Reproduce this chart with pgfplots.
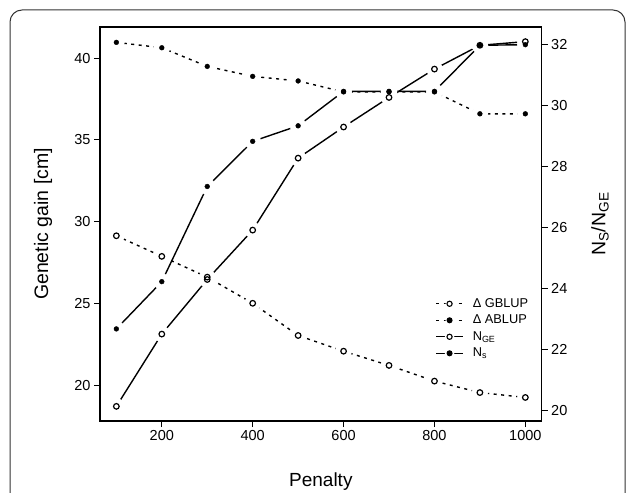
\documentclass[border=0pt]{standalone}
\usepackage{fontspec}
\setmainfont{Liberation Sans}
\usepackage{pgfplots}
\usepackage{pgfplotstable}
\pgfplotsset{compat=1.18}

\pgfplotstableread{
x    gb    ab    nge   ns
100  29.13 40.96 20.14 22.68
200  27.87 40.63 22.51 24.23
300  26.60 39.49 24.30 27.35
400  25.00 38.88 25.92 28.83
500  23.03 38.60 28.28 29.34
600  22.07 37.93 29.30 30.47
700  21.20 37.93 30.27 30.47
800  20.24 37.93 31.20 30.47
900  19.54 36.59 31.98 31.98
1000 19.24 36.59 32.10 32.00
}\data

\newcommand\legfont{\fontsize{12.8}{15}\selectfont\hspace*{6pt}}
\pgfplotsset{
  base/.style={at={(100pt,72pt)}, anchor=south west, scale only axis,
    width=441.7pt, height=394pt, xmin=64, xmax=1036},
  lefty/.style={ymin=17.8, ymax=41.9},
  righty/.style={ymin=19.66, ymax=32.58},
  hid/.style={base, hide axis},
  dotl/.style={black, line width=1.4pt, dash pattern=on 3pt off 4.5pt},
  soll/.style={black, line width=1.4pt},
  halo/.style={only marks, mark=*, mark size=8pt, white, mark options={draw=none, fill=white}},
  omark/.style={only marks, mark=o, mark size=2.8pt, black, mark options={line width=1.2pt, fill=white, solid}},
  fmark/.style={only marks, mark=*, mark size=2.4pt, black, mark options={solid}},
  tl/.style={font=\fontsize{14.5}{16}\selectfont, /pgf/number format/assume math mode=true,
    /pgf/number format/1000 sep={}},
}

\begin{document}
\begin{tikzpicture}
\clip (0pt,0pt) rectangle (627pt,493pt);
\useasboundingbox (0pt,0pt) rectangle (627pt,493pt);
\draw[line width=1pt, black!80, rounded corners=12pt] (10pt,-40pt) rectangle (625pt,483pt);

% left axis, lines of the gain series
\begin{axis}[base, lefty,
    axis line style={line width=1.3pt},
    tick align=outside, xtick pos=bottom, ytick pos=left,
    major tick length=6pt, tick style={black, line width=0.9pt},
    xtick={200,400,600,800,1000}, ytick={20,25,30,35,40},
    tick label style={tl},
    xlabel={Penalty}, ylabel={Genetic gain [cm]},
    every axis x label/.style={at={(axis description cs:0.5,-0.154)}, anchor=center, font=\fontsize{19}{22}\selectfont},
    every axis y label/.style={at={(axis description cs:-0.129,0.5)}, anchor=center, rotate=90, font=\fontsize{19.5}{22}\selectfont},
    legend style={at={(0.752,0.324)}, anchor=north west, draw=none, fill=none,
      row sep=0pt,
      nodes={inner xsep=3pt, inner ysep=1.5pt, text height=10pt, text depth=3.5pt}},
    legend cell align=left,
    legend image code/.code={
      \draw[#1] (0pt,0pt) -- (27pt,0pt);
      \fill[white] (13.5pt,0pt) circle (4pt);
      \draw[#1] plot coordinates {(13.5pt,0pt)};
    },
  ]
  \addlegendimage{dotl, mark=o, mark size=2.6pt, mark options={solid, line width=1.1pt, fill=white}}
  \addlegendentry{\legfont Δ GBLUP}
  \addlegendimage{dotl, mark=*, mark size=2.3pt, mark options={solid}}
  \addlegendentry{\legfont Δ ABLUP}
  \addlegendimage{soll, mark=o, mark size=2.6pt, mark options={solid, line width=1.1pt, fill=white}}
  \addlegendentry{\legfont N\textsubscript{GE}}
  \addlegendimage{soll, mark=*, mark size=2.3pt, mark options={solid}}
  \addlegendentry{\legfont N\textsubscript{s}}
  \addplot[dotl, forget plot] table[x=x, y=gb] {\data};
  \addplot[dotl, forget plot] table[x=x, y=ab] {\data};
\end{axis}

% right axis, lines of the size series
\begin{axis}[base, righty,
    axis x line=none, axis y line*=right,
    axis line style={line width=1.3pt},
    tick align=outside, ytick pos=right,
    major tick length=6pt, tick style={black, line width=0.9pt},
    ytick={20,22,...,32},
    tick label style={tl},
    ylabel={N\textsubscript{S}/N\textsubscript{GE}},
    every axis y label/.style={at={(axis description cs:1.132,0.5)}, anchor=center, rotate=90, font=\fontsize{19.5}{22}\selectfont},
  ]
  \addplot[soll] table[x=x, y=nge] {\data};
  \addplot[soll] table[x=x, y=ns] {\data};
  \addplot[halo] table[x=x, y=nge] {\data};
  \addplot[halo] table[x=x, y=ns] {\data};
\end{axis}

% gaps and marks of the gain series
\begin{axis}[hid, lefty]
  \addplot[halo] table[x=x, y=gb] {\data};
  \addplot[halo] table[x=x, y=ab] {\data};
  \addplot[omark] table[x=x, y=gb] {\data};
  \addplot[fmark] table[x=x, y=ab] {\data};
\end{axis}

% marks of the size series
\begin{axis}[hid, righty]
  \addplot[omark] table[x=x, y=nge] {\data};
  \addplot[fmark] table[x=x, y=ns] {\data};
\end{axis}
\end{tikzpicture}
\end{document}
